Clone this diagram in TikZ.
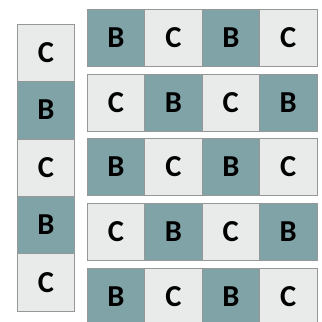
\documentclass[tikz,border=0pt]{standalone}
\usepackage{fontspec}
\setmainfont{Carlito}
\definecolor{tileB}{RGB}{128,163,168}
\definecolor{tileC}{RGB}{233,235,235}
\definecolor{tileedge}{RGB}{150,152,152}

\begin{document}
\begin{tikzpicture}[x=0.03cm,y=-0.03cm,
  tile/.style={draw=tileedge,line width=0.5pt,rectangle,fill=tile#1,
    minimum size=1.722cm,inner sep=0pt,outer sep=0pt,
    font=\fontsize{26}{26}\selectfont\bfseries}]
  \clip (0,0) rectangle (322,322);
  % single strip on the left
  \foreach \y/\t [count=\i] in {52.7/C,110.1/B,167.5/C,224.9/B,282.3/C}
    \node[tile=\t] (left\i) at (46,\y) {\t};
  % strips of four on the right
  \foreach \y [count=\r] in {38,102.7,167,232,297}
    \foreach \x [count=\c] in {116,173.4,230.8,288.2} {
      \ifodd\numexpr\r+\c\relax \def\t{C}\else \def\t{B}\fi
      \node[tile=\t] (row\r-\c) at (\x,\y) {\t};
    }
\end{tikzpicture}
\end{document}
